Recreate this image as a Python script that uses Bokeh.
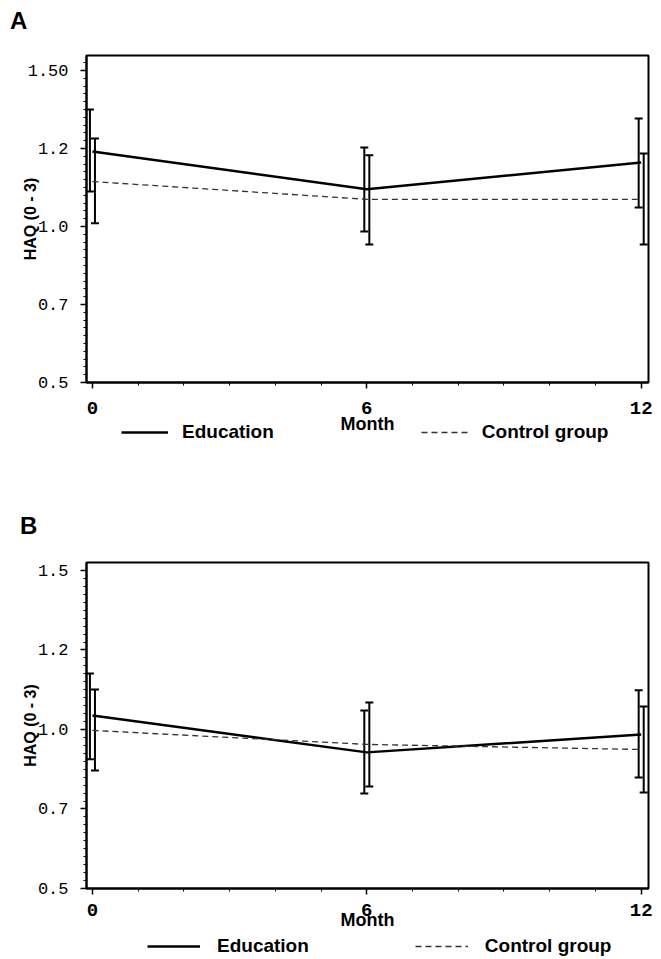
from bokeh.plotting import figure
from bokeh.models import (ColumnDataSource, Whisker, TeeHead, FixedTicker, Legend,
                          LegendItem, Range1d, Div)
from bokeh.layouts import column
from bokeh.embed import file_html
from bokeh.resources import INLINE

# ---------------- data ----------------
months = [0, 6, 12]
x_ticks = [0, 6, 12]
x_minor = list(range(0, 13))
y_ticks = [0.5, 0.75, 1.0, 1.25, 1.5]
y_labels_a = ["0.5", "0.7", "1.0", "1.2", "1.50"]
y_labels_b = ["0.5", "0.7", "1.0", "1.2", "1.5"]
series_names = ["Education", "Control group"]

a_edu_mean = [1.240, 1.119, 1.205]
a_edu_upper = [1.375, 1.253, 1.346]
a_edu_lower = [1.112, 0.984, 1.061]
a_ctl_mean = [1.144, 1.087, 1.087]
a_ctl_upper = [1.282, 1.228, 1.234]
a_ctl_lower = [1.010, 0.942, 0.942]

b_edu_mean = [1.044, 0.928, 0.984]
b_edu_upper = [1.176, 1.060, 1.123]
b_edu_lower = [0.906, 0.799, 0.849]
b_ctl_mean = [0.997, 0.953, 0.937]
b_ctl_upper = [1.126, 1.085, 1.072]
b_ctl_lower = [0.871, 0.821, 0.802]

SANS = "Liberation Sans"
MONO = "Liberation Mono"
EDU_STYLE = dict(line_color="black", line_width=2.5)
CTL_STYLE = dict(line_color="#333333", line_width=1.3, line_dash="6 4")


def letter_div(letter, height, pad_top, pad_left):
    html = ("<div style=\"padding:%dpx 0 0 %dpx; font-family:'Liberation Sans'; "
            "font-weight:bold; font-size:24px; line-height:24px; color:black;\">%s</div>"
            % (pad_top, pad_left, letter))
    return Div(text=html, width=661, height=height, margin=(0, 0, 0, 0))


def make_panel(y_labels, y_top, edu, ctl, height, b_top, b_bottom, haq_standoff,
               xlab_standoff, month_standoff):
    p = figure(width=661, height=height, output_backend="svg", toolbar_location=None,
               x_range=Range1d(-0.13, 12.16), y_range=Range1d(0.5, y_top),
               min_border_left=86, min_border_right=13,
               min_border_top=b_top, min_border_bottom=b_bottom,
               background_fill_color="white", border_fill_color="white")
    p.grid.visible = False
    p.outline_line_color = "black"
    p.outline_line_width = 2

    e_mean, e_up, e_lo = edu
    c_mean, c_up, c_lo = ctl
    dx = 0.055
    src_e = ColumnDataSource(dict(x=[m - dx for m in months], upper=e_up, lower=e_lo))
    src_c = ColumnDataSource(dict(x=[m + dx for m in months], upper=c_up, lower=c_lo))

    p.line(months, e_mean, **EDU_STYLE)
    p.line(months, c_mean, **CTL_STYLE)

    for src in (src_e, src_c):
        w = Whisker(source=src, base="x", upper="upper", lower="lower",
                    dimension="height", line_color="black", line_width=2,
                    upper_head=TeeHead(size=8, line_width=2, line_color="black"),
                    lower_head=TeeHead(size=8, line_width=2, line_color="black"))
        p.add_layout(w)

    # x axis
    xa = p.xaxis[0]
    xa.ticker = FixedTicker(ticks=x_ticks, minor_ticks=x_minor)
    xa.axis_line_width = 2
    xa.major_tick_out = 6
    xa.major_tick_in = 0
    xa.minor_tick_out = 3
    xa.minor_tick_in = 0
    xa.major_tick_line_width = 1.5
    xa.major_label_standoff = xlab_standoff
    xa.major_label_text_font = MONO
    xa.major_label_text_font_style = "bold"
    xa.major_label_text_font_size = "19px"
    xa.major_label_text_color = "black"
    xa.axis_label = "Month"
    xa.axis_label_standoff = month_standoff
    xa.axis_label_text_font = SANS
    xa.axis_label_text_font_style = "bold"
    xa.axis_label_text_font_size = "18px"
    xa.axis_label_text_color = "black"

    # y axis
    ya = p.yaxis[0]
    ya.ticker = FixedTicker(ticks=y_ticks,
                            minor_ticks=[0.5 + 0.025 * i for i in range(0, 43)])
    ya.major_label_overrides = {t: l for t, l in zip(y_ticks, y_labels)}
    ya.axis_line_width = 2
    ya.major_tick_out = 6
    ya.major_tick_in = 0
    ya.minor_tick_out = 3
    ya.minor_tick_in = 0
    ya.major_tick_line_width = 1.5
    ya.major_label_standoff = 12
    ya.major_label_text_font = MONO
    ya.major_label_text_font_size = "17px"
    ya.major_label_text_color = "black"
    ya.axis_label = "HAQ (0 - 3)"
    ya.axis_label_standoff = haq_standoff
    ya.axis_label_text_font = SANS
    ya.axis_label_text_font_style = "bold"
    ya.axis_label_text_font_size = "16px"
    ya.axis_label_text_color = "black"
    return p


def legend_strip(height, x0, gw, ls, sp, top_margin=0):
    s = figure(width=661, height=height, output_backend="svg", toolbar_location=None,
               x_range=Range1d(0, 1), y_range=Range1d(0, 1),
               x_axis_location=None, y_axis_location=None,
               min_border=0, min_border_left=0, min_border_right=0,
               min_border_top=0, min_border_bottom=0,
               background_fill_color=None, border_fill_color=None,
               margin=(top_margin, 0, 0, 0))
    s.grid.visible = False
    s.outline_line_color = None
    # legend-only renderers, kept outside the visible range
    r_e = s.line(x=[-5, -4], y=[-5, -5], **EDU_STYLE)
    r_c = s.line(x=[-5, -4], y=[-5, -5], **CTL_STYLE)
    legend = Legend(items=[LegendItem(label=series_names[0], renderers=[r_e]),
                           LegendItem(label=series_names[1], renderers=[r_c])],
                    orientation="horizontal", location=(x0, 0),
                    glyph_width=gw, glyph_height=16, label_height=16,
                    label_standoff=ls, spacing=sp,
                    padding=0, margin=0, border_line_color=None,
                    background_fill_alpha=0,
                    label_text_font=SANS, label_text_font_style="bold",
                    label_text_font_size="19px", label_text_color="black")
    s.add_layout(legend, "center")
    return s


div_a = letter_div("A", 40, 9, 10)
pa = make_panel(y_labels_a, 1.548,
                (a_edu_mean, a_edu_upper, a_edu_lower),
                (a_ctl_mean, a_ctl_upper, a_ctl_lower),
                height=399, b_top=15, b_bottom=57, haq_standoff=-14,
                xlab_standoff=13, month_standoff=-3)
leg_a = legend_strip(22, 122 - 87, 47, 14, 147, top_margin=-18)

div_b = letter_div("B", 108, 71, 20)
pb = make_panel(y_labels_b, 1.525,
                (b_edu_mean, b_edu_upper, b_edu_lower),
                (b_ctl_mean, b_ctl_upper, b_ctl_lower),
                height=384, b_top=11, b_bottom=47, haq_standoff=-4,
                xlab_standoff=9, month_standoff=-9)
leg_b = legend_strip(22, 148 - 87, 53, 17, 106)

layout = column(div_a, pa, leg_a, div_b, pb, leg_b, spacing=0)
open("out.html", "w").write(file_html(layout, INLINE))
